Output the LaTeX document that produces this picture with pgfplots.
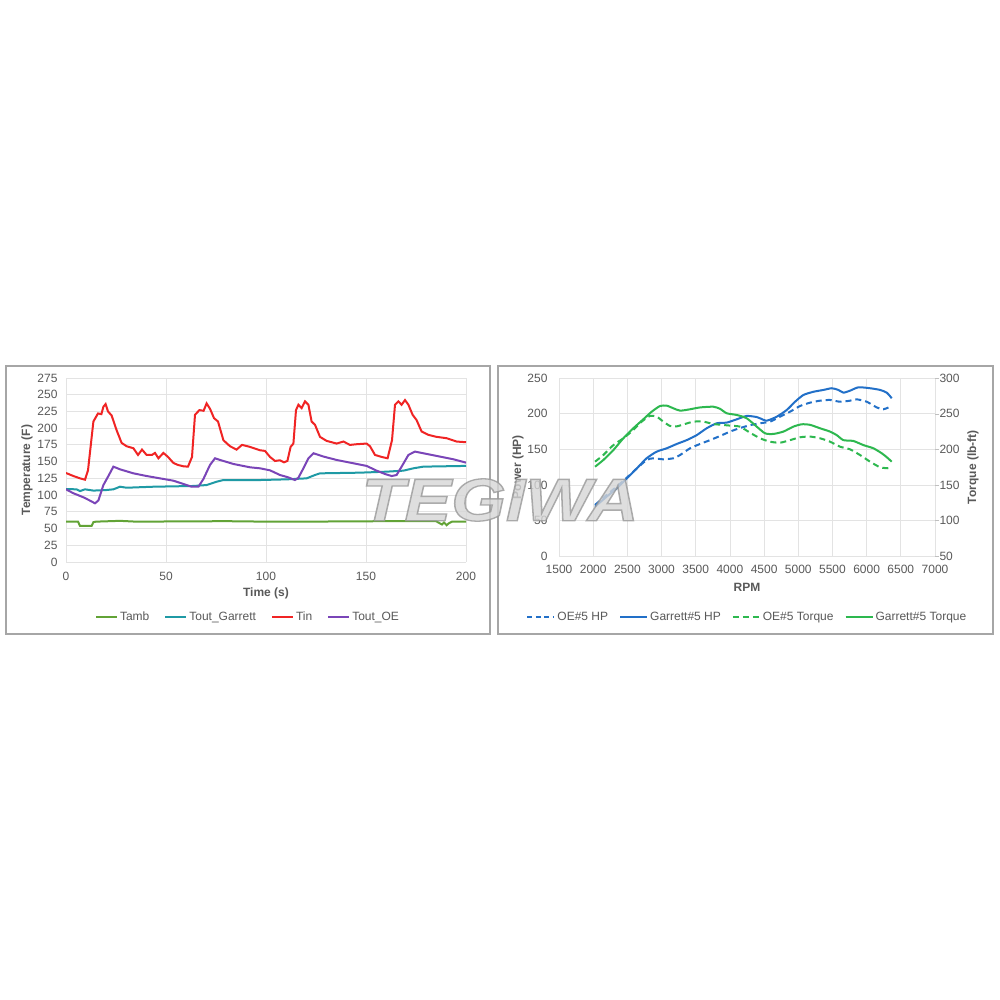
\documentclass[border=0pt]{standalone}
\usepackage{pgfplots}
\pgfplotsset{compat=1.18}
\usepackage{fontspec}
\setmainfont{Liberation Sans}
\definecolor{tamb}{HTML}{62A336}
\definecolor{tgar}{HTML}{1F9AA5}
\definecolor{tin}{HTML}{F02424}
\definecolor{toe}{HTML}{7A45B8}
\definecolor{hpblue}{HTML}{2270C8}
\definecolor{tqgreen}{HTML}{2DB84F}
\definecolor{gridc}{HTML}{E3E3E3}
\definecolor{labc}{HTML}{595959}
\definecolor{framec}{HTML}{A6A6A6}
\definecolor{tickc}{HTML}{BFBFBF}
\pgfplotsset{
 excel/.style={
  scale only axis,
  axis line style={draw=none},
  grid=major,
  major grid style={draw=gridc, line width=0.8pt},
  major tick length=0pt,
  ticklabel style={font=\fontsize{12}{14}\selectfont, text=labc},
  label style={font=\bfseries\fontsize{12}{14}\selectfont, text=labc},
  /pgf/number format/assume math mode=true,
  /pgf/number format/1000 sep={},
  legend style={draw=none, fill=none, font=\fontsize{12}{14}\selectfont, text=labc,
    legend columns=-1},
  no markers,
 },
}
\begin{document}
\begin{tikzpicture}
\path[use as bounding box] (0pt,0pt) rectangle (1000pt,1000pt);
\fill[white] (0pt,0pt) rectangle (1000pt,1000pt);
\draw[framec, line width=1.5pt] (6pt,366pt) rectangle (490pt,634pt);
\draw[framec, line width=1.5pt] (498pt,366pt) rectangle (993pt,634pt);

% ---------------- left chart ----------------
\begin{axis}[excel, at={(66pt,438pt)}, anchor=south west,
  width=400pt, height=184pt,
  xmin=0, xmax=200, ymin=0, ymax=275,
  xtick={0,50,...,200}, ytick={0,25,...,275},
  xticklabel style={yshift=-7pt}, yticklabel style={xshift=-5pt},
  xlabel={Time (s)}, ylabel={Temperature (F)},
  xlabel style={at={(axis description cs:0.5,-0.168)}, anchor=center},
  ylabel style={at={(axis description cs:-0.0975,0.5)}, anchor=center},
  legend style={at={(axis description cs:0.455,-0.299)}, anchor=center,
    /tikz/every even column/.append style={column sep=13pt}},
  legend image code/.code={\draw[#1] (0pt,0pt) -- (21pt,0pt);},
]
\addplot[tamb, line width=2pt] coordinates {(0,60.3)(6,60.3)(7,54)(12.8,54)(13.7,59.5)(15,60.3)(27,61.5)(35,60.3)(80,61)(100,60.3)(130,60.5)(160,61)(185,61)(188,56)(189,59)(190.3,55)(191.5,58)(193,60.3)(200,60.3)};
\addlegendentry{Tamb}
\addplot[tgar, line width=2pt] coordinates {(0,109)(5.3,108.6)(7,106)(9.5,108.6)(13.7,106.7)(20.3,107.6)(23.7,108.6)(27,112.5)(30.3,111)(43.7,112.5)(63.7,113.6)(70.3,115)(75.3,120)(78.7,122.5)(97,122.5)(110.3,123.5)(120.3,125)(124.5,130)(127,132.5)(147,133.5)(160.3,135)(168.7,136.5)(173.7,140)(178.7,142.5)(200,143.6)};
\addlegendentry{Tout\_Garrett}
\addplot[tin, line width=2pt] coordinates {(0,133)(3.7,128.5)(7,125)(9.5,123)(11,137)(13.7,210)(16,222)(17.7,221)(18.7,232)(19.8,236)(21,225)(22.8,219)(25.3,197)(27.8,178)(30.3,173)(33.7,170)(36,160)(38,168)(40.3,160)(43,160)(44.5,163)(46.2,155)(48.7,163)(51,157)(53.7,148)(56,145)(58.7,143)(61,142.5)(63,157)(64.5,220)(66.7,227)(68.8,226)(70.3,237)(72,229)(74,215)(76,210)(78.7,182)(82,173)(85.3,168)(88,175)(92,172)(97,167)(99.5,166)(102,157)(104.5,151)(107,152)(109,149)(110.7,151)(112.3,172)(113.7,177)(115,227)(116.2,235)(117.8,230)(119.5,240)(121.2,235)(122.8,210)(124.5,205)(127,187)(130.3,181)(135.3,177)(138.7,180)(142,175)(145.3,176)(150.3,177)(152,173)(154.5,160)(157.8,157)(160.8,155)(163,182)(164.5,235)(166.2,240)(167.8,235)(169.5,242)(171.2,235)(173.3,220)(175.3,212)(177.8,195)(181.2,190)(185.3,187)(190.3,185)(195.3,180)(200,179)};
\addlegendentry{Tin}
\addplot[toe, line width=2pt] coordinates {(0,108.6)(3.7,102.7)(8.7,96.7)(12,91.7)(14.5,87.7)(16.2,92)(18.7,115)(21.2,128.5)(23.7,142.5)(27,138.5)(33.7,132.5)(40.3,128.5)(47,125)(53.7,121.5)(58.7,116.6)(62.8,112.5)(66.2,112.5)(68.7,124)(72,145)(74.5,155)(77,152.5)(83.7,146.5)(92,141.5)(97,140)(102,137)(107,130)(111,126.6)(114.5,122.5)(116.2,126)(118.7,140)(121.2,155)(123.7,162.5)(128.7,157.6)(135.3,152.5)(143.7,147.5)(150.3,143.6)(155.3,136.5)(159.5,131.5)(162.8,128.5)(165.3,130)(168.3,145)(171.2,160)(174.5,165)(180.3,161.5)(187,157.5)(193.7,153.5)(200,148.5)};
\addlegendentry{Tout\_OE}
\end{axis}

% ---------------- right chart: HP ----------------
\begin{axis}[excel, at={(559pt,444pt)}, anchor=south west,
  width=376pt, height=177.7pt,
  xmin=1500, xmax=7000, ymin=0, ymax=250,
  xtick={1500,2000,...,7000}, ytick={0,50,...,250},
  xticklabel style={yshift=-6pt}, yticklabel style={xshift=-8pt},
  xlabel={RPM}, ylabel={Power (HP)},
  xlabel style={at={(axis description cs:0.5,-0.1745)}, anchor=center},
  ylabel style={at={(axis description cs:-0.109,0.5)}, anchor=center},
]
\addplot[hpblue, line width=2pt, dash pattern=on 6pt off 4pt, smooth, tension=0.4] coordinates {(2027,71.8)(2197,85.8)(2343,97.5)(2490,110)(2636,123)(2782,135)(2880,137.5)(3026,136)(3173,137.5)(3270,142)(3417,151.5)(3563,157.6)(3709,163)(3855,168.8)(4002,175)(4148,180)(4294,184)(4441,186.7)(4587,189)(4733,196)(4880,203)(5026,211)(5172,215.7)(5318,218.5)(5465,219.5)(5611,217)(5758,218.5)(5855,220.4)(6002,217)(6148,209)(6245,206.4)(6319,209)};
\addplot[hpblue, line width=2pt, smooth, tension=0.4] coordinates {(2027,69.4)(2197,83.5)(2343,95)(2490,109)(2636,123)(2782,137.5)(2929,146.8)(3075,151.5)(3222,157.6)(3368,163)(3514,170)(3660,179.7)(3807,186.7)(3953,187.7)(4100,192.3)(4246,197)(4392,195.5)(4441,193.7)(4538,190.4)(4685,196)(4831,205.4)(4953,217)(5075,226.5)(5221,231)(5368,233.6)(5490,236)(5587,233.6)(5660,229.8)(5758,232.6)(5880,237.3)(6050,236)(6197,233.6)(6294,229.8)(6367,221.9)};
\end{axis}

% ---------------- right chart: torque ----------------
\begin{axis}[excel, at={(559pt,444pt)}, anchor=south west,
  width=376pt, height=177.7pt,
  xmin=1500, xmax=7000, ymin=50, ymax=300,
  grid=none, hide x axis, axis y line*=right,
  ytick={50,100,...,300},
  major tick length=4pt, tick align=outside,
  tick style={draw=tickc, line width=0.6pt},
  yticklabel style={xshift=-3pt},
  ylabel={Torque (lb-ft)},
  ylabel style={at={(axis description cs:1.101,0.5)}, anchor=center},
  legend style={at={(axis description cs:0.501,-0.343)}, anchor=center,
    /tikz/every even column/.append style={column sep=9pt}},
  legend image code/.code={\draw[#1] (0pt,0pt) -- (27pt,0pt);},
]
\addlegendimage{hpblue, line width=2pt, dash pattern=on 5pt off 3.5pt}
\addlegendentry{OE\#5 HP}
\addlegendimage{hpblue, line width=2pt}
\addlegendentry{Garrett\#5 HP}
\addplot[tqgreen, line width=2pt, dash pattern=on 6pt off 4pt, smooth, tension=0.4] coordinates {(2027,182.7)(2148,192)(2295,206)(2441,215.6)(2587,227.3)(2709,239)(2831,247)(2929,246)(3026,239)(3124,233)(3222,232.4)(3343,235.7)(3466,239)(3612,239)(3758,235.7)(3904,234.3)(4051,233)(4148,232)(4294,223.5)(4441,215.6)(4587,210.8)(4733,209.4)(4880,213)(5026,217)(5172,218)(5318,215.6)(5465,210.8)(5611,203.8)(5758,200)(5904,192)(6050,182.7)(6197,174.8)(6319,173.4)};
\addlegendentry{OE\#5 Torque}
\addplot[tqgreen, line width=2pt, smooth, tension=0.4] coordinates {(2027,175.6)(2148,185)(2295,199)(2441,215.6)(2587,229.7)(2733,242.3)(2856,253)(2978,261)(3076,261.5)(3173,257.8)(3271,254.5)(3417,256.4)(3563,259)(3758,260)(3856,257)(3953,250.8)(4100,248.4)(4246,243.7)(4392,232)(4514,222.6)(4635,221.7)(4782,225)(4928,232)(5051,235.3)(5172,234.5)(5318,229.7)(5465,225)(5563,220)(5660,213)(5806,211.8)(5953,206)(6099,201.5)(6221,194.5)(6294,189)(6367,182.7)};
\addlegendentry{Garrett\#5 Torque}
\end{axis}

% watermark
\node[font=\bfseries\itshape\fontsize{60}{60}\selectfont, text=black!16, opacity=0.8, xscale=1.17, inner sep=0pt] at (500pt,500pt) {\special{pdf:literal direct 2 Tr 0.6 G 1.3 w}TEGIWA\special{pdf:literal direct 0 Tr}};
\end{tikzpicture}
\end{document}
